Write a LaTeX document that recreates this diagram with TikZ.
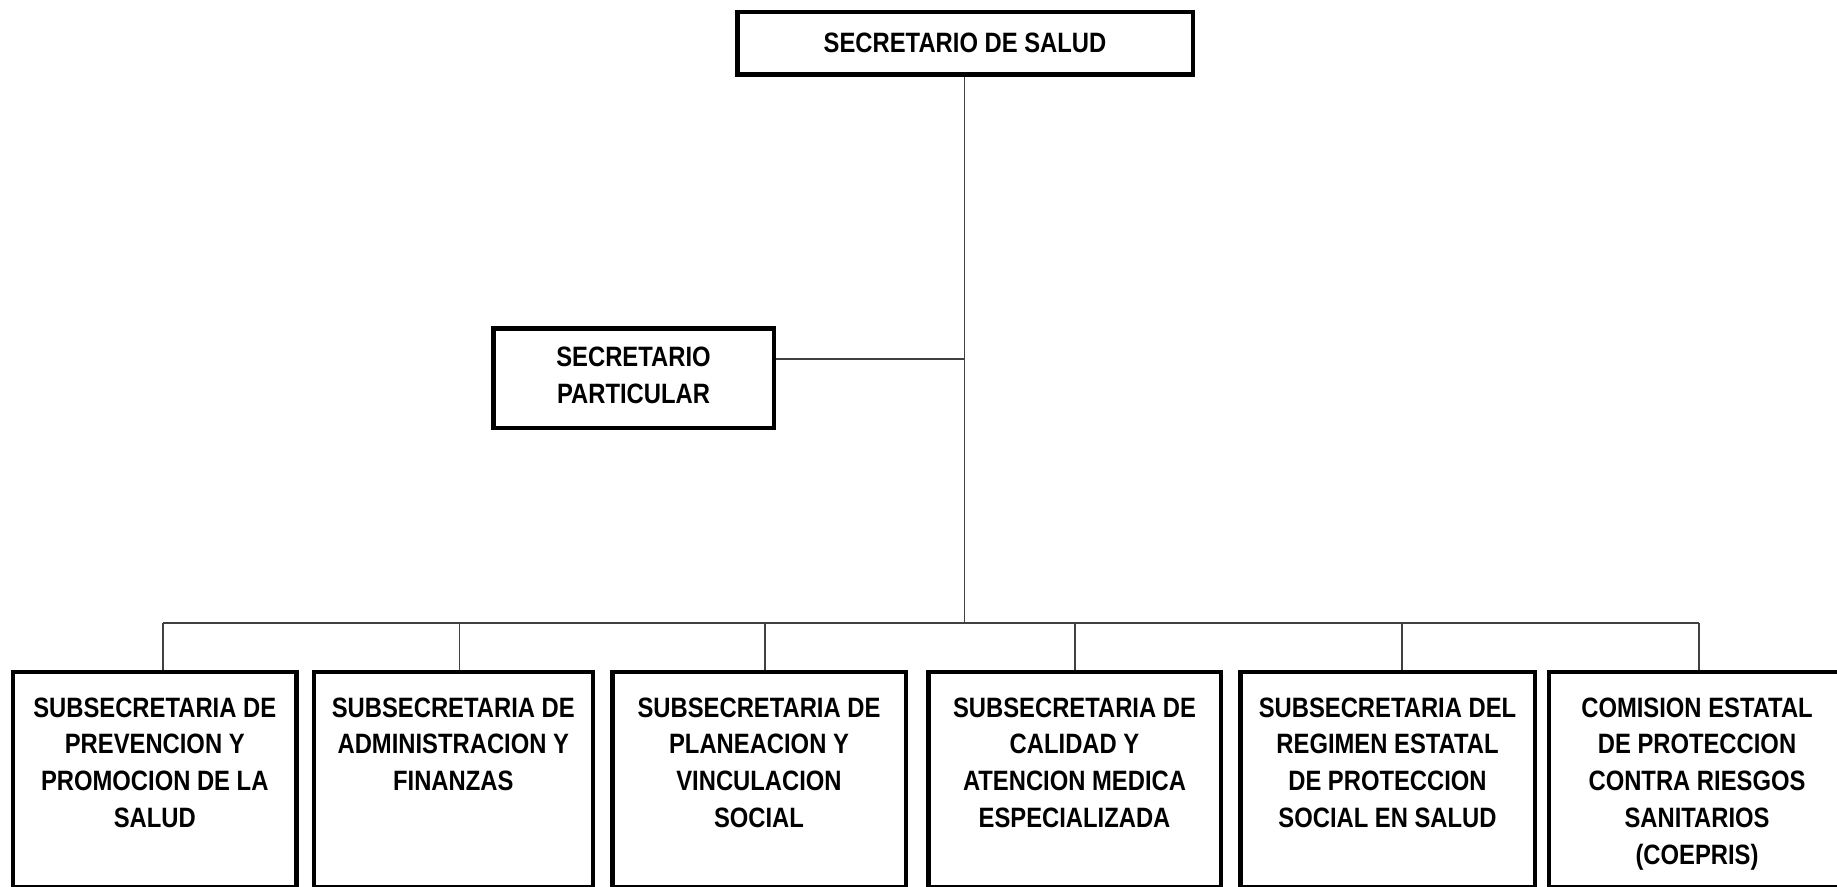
\documentclass[tikz,border=0pt]{standalone}
\usepackage{fontspec}
\newfontfamily\orgfont[FakeStretch=0.85]{Liberation Sans}
\begin{document}
\begin{tikzpicture}[x=0.4pt,y=-0.4pt,
  box/.style={draw=black, line width=1.8pt, fill=white, inner sep=0pt},
  txt/.style={font=\orgfont\bfseries\fontsize{11.2}{14.7}\selectfont, align=center, inner sep=0pt, text=black},
  conn/.style={draw=black!75, line width=0.6pt}]
\useasboundingbox (0,0) rectangle (1837,886);
\clip (0,0) rectangle (1837,886);
\fill[white] (0,0) rectangle (1837,886);

% top
\node[box, minimum width=182.2pt, minimum height=25pt] (sec) at (965,43.5) {};
\node[txt] (secT) at (965,42.5) {SECRETARIO DE SALUD};

% secretario particular
\node[box, minimum width=112.2pt, minimum height=39.8pt] (sp) at (633.5,378) {};
\node[txt] (spT) at (633.5,375.5) {SECRETARIO\\PARTICULAR};

% bottom boxes
\node[box, minimum width=113.2pt, minimum height=85.9pt] (b1) at (154.75,779.6) {};
\node[box, minimum width=111.6pt, minimum height=85.9pt] (b2) at (453.3,779.6) {};
\node[box, minimum width=117.4pt, minimum height=85.9pt] (b3) at (759,779.6) {};
\node[box, minimum width=117pt, minimum height=85.9pt] (b4) at (1074.5,779.6) {};
\node[box, minimum width=117.8pt, minimum height=85.9pt] (b5) at (1387.5,779.6) {};
\node[box, minimum width=118.6pt, minimum height=85.9pt] (b6) at (1697,779.6) {};

\node[txt, anchor=north] (t1) at (154.75,697) {SUBSECRETARIA DE\\PREVENCION Y\\PROMOCION DE LA\\SALUD};
\node[txt, anchor=north] (t2) at (453.3,697) {SUBSECRETARIA DE\\ADMINISTRACION Y\\FINANZAS};
\node[txt, anchor=north] (t3) at (759,697) {SUBSECRETARIA DE\\PLANEACION Y\\VINCULACION\\SOCIAL};
\node[txt, anchor=north] (t4) at (1074.5,697) {SUBSECRETARIA DE\\CALIDAD Y\\ATENCION MEDICA\\ESPECIALIZADA};
\node[txt, anchor=north] (t5) at (1387.5,697) {SUBSECRETARIA DEL\\REGIMEN ESTATAL\\DE PROTECCION\\SOCIAL EN SALUD};
\node[txt, anchor=north] (t6) at (1697,697) {COMISION ESTATAL\\DE PROTECCION\\CONTRA RIESGOS\\SANITARIOS\\(COEPRIS)};

% connectors
\coordinate (bus) at (964.5,623);
\coordinate (jp) at (964.5,359);
\coordinate (c1) at (163,623);
\coordinate (c2) at (459.5,623);
\coordinate (c3) at (765,623);
\coordinate (c4) at (1075,623);
\coordinate (c5) at (1402,623);
\coordinate (c6) at (1699,623);

\draw[conn] (sec.south -| bus) -- (bus);
\draw[conn] (sp.east |- jp) -- (jp);
\draw[conn] (c1) -- (c6);
\draw[conn] (c1) -- (c1 |- b1.north);
\draw[conn] (c2) -- (c2 |- b2.north);
\draw[conn] (c3) -- (c3 |- b3.north);
\draw[conn] (c4) -- (c4 |- b4.north);
\draw[conn] (c5) -- (c5 |- b5.north);
\draw[conn] (c6) -- (c6 |- b6.north);
\end{tikzpicture}
\end{document}
